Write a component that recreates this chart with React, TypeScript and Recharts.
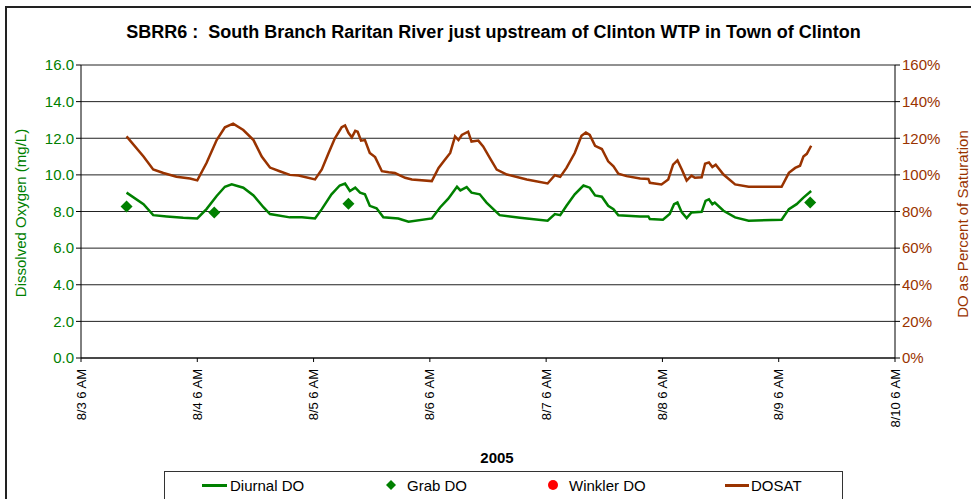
import React from "react"
import { CartesianGrid, ComposedChart, Line, Scatter, XAxis, YAxis } from "recharts"

// hours after 8/3 6 AM
const dayTicks = [0, 24, 48, 72, 96, 120, 144, 168]
const dayLabels = ["8/3 6 AM", "8/4 6 AM", "8/5 6 AM", "8/6 6 AM", "8/7 6 AM", "8/8 6 AM", "8/9 6 AM", "8/10 6 AM"]
const doTicks = [0, 2, 4, 6, 8, 10, 12, 14, 16]
const satTicks = [0, 20, 40, 60, 80, 100, 120, 140, 160]

const diurnalHours = [
  9.4, 12.9, 14.9, 17.7, 21.1, 24, 25.9, 28, 29.7, 31.1, 33.5, 35.6, 37.7, 39, 43.1, 45.6, 48.3, 49.7, 51.7, 53.4,
  54.5, 55.5, 56.6, 57.6, 58.6, 59.6, 61, 62.4, 65.5, 67.6, 72.4, 74.1, 75.8, 77.6, 78.3, 79.6, 80.6, 82.3, 83.7,
  85.1, 86.4, 90.6, 96.3, 97.8, 98.9, 100.2, 101.9, 103.7, 105, 106.1, 107.5, 108.8, 109.9, 110.9, 115.4, 117.1,
  117.4, 120.1, 121.5, 122.4, 123.1, 124, 125, 126, 128.1, 128.9, 129.6, 130.3, 130.8, 132.6, 135, 137.8, 144.6,
  146.1, 147.7, 149.1, 150.7,
]
const diurnalDO = [
  9.03, 8.4, 7.8, 7.73, 7.66, 7.62, 8.13, 8.85, 9.35, 9.48, 9.3, 8.88, 8.22, 7.86, 7.68, 7.68, 7.62, 8.13, 8.94, 9.42,
  9.53, 9.12, 9.3, 9.03, 8.94, 8.31, 8.18, 7.68, 7.62, 7.44, 7.62, 8.22, 8.7, 9.35, 9.15, 9.33, 9.03, 8.94, 8.49,
  8.13, 7.8, 7.66, 7.5, 7.86, 7.8, 8.31, 8.94, 9.42, 9.3, 8.88, 8.81, 8.31, 8.13, 7.8, 7.73, 7.73,
  7.59, 7.55, 7.86, 8.4, 8.49, 7.95, 7.64, 7.95, 7.98, 8.58, 8.67, 8.4, 8.49, 8.04, 7.68, 7.5, 7.55,
  8.13, 8.4, 8.76, 9.12,
]

const dosatHours = [
  9.4, 12.9, 14.9, 17, 19.7, 22.5, 24, 25.9, 28, 29.7, 31.4, 33.5, 35.6, 37.3, 39, 41, 43.1, 44.9, 48.3, 49.7, 51.1,
  52.4, 53.8, 54.5, 55.2, 55.9, 56.6, 57.1, 57.8, 58.6, 59.6, 60.7, 62.1, 63.5, 64.8, 66.9, 68.3, 72.4, 73.8, 75.1,
  76.2, 77.2, 77.9, 78.6, 79.9, 80.6, 82, 83, 84.4, 85.8, 87.9, 92, 96.3, 97.8, 98.9, 100.2, 101.9, 103.3, 104.2,
  105, 106.1, 107.5, 108.8, 109.9, 110.9, 112.6, 115.4, 117.1, 117.4, 119.8, 121.2, 122.2, 123.1, 124, 125, 126,
  126.7, 128.1, 128.8, 129.6, 130.3, 131, 132.6, 135, 137.8, 144.6, 146.1, 147.4, 148.4, 149.1, 149.8, 150.7,
]
const dosatPct = [
  121, 110, 103, 101, 99, 98, 97, 106.5, 119, 126, 128, 124.5, 119, 110, 104, 102, 100, 99.6, 97.5, 103, 112,
  120, 126, 127, 123, 120.5, 124, 123.5, 118.7, 119, 112, 109.7, 102, 101.4, 101, 98.4, 97.5, 96.6, 103.8, 108.3,
  112, 121, 119, 121.8, 123.6, 118.2, 118.7, 115.5, 109.2, 102.9, 100.2, 97.5, 95.3, 99.8, 98.9, 103.8, 111.9, 121.3, 123.1,
  121.8, 115.9, 114.1, 107.4, 104.7, 100.7, 99.3, 98, 97.8, 95.7, 94.8, 97.5, 105.6, 107.9, 102.9, 96.9, 99.6,
  98.4, 98.7, 106.1, 106.8, 104.3, 105.6, 100.2, 94.8, 93.5, 93.5, 101.1, 103.8, 105, 110, 111.5, 115.9,
]

const grabHours = [9.4, 27.5, 55.2, 150.5]
const grabDO = [8.27, 7.95, 8.43, 8.49]

const GREEN = "#008000"
const BROWN = "#993300"
const FONT = '"Liberation Sans", Arial, sans-serif'

const diurnalData = diurnalHours.map((h, i) => ({ h, v: diurnalDO[i] }))
const dosatData = dosatHours.map((h, i) => ({ h, v: dosatPct[i] }))
const grabData = grabHours.map((h, i) => ({ h, v: grabDO[i] }))

function DayTick({ x, y, payload }: any) {
  const idx = dayTicks.indexOf(payload.value)
  const ty = y + 5
  return (
    <text
      x={x}
      y={ty}
      dy="0.35em"
      textAnchor="end"
      transform={`rotate(-90 ${x} ${ty})`}
      fontSize={13}
      fontFamily={FONT}
      fill="#000"
    >
      {dayLabels[idx]}
    </text>
  )
}

function Diamond({ cx, cy }: any) {
  const r = 6
  return <polygon points={`${cx},${cy - r} ${cx + r},${cy} ${cx},${cy + r} ${cx - r},${cy}`} fill={GREEN} />
}

export default function App() {
  return (
    <div
      style={{
        position: "absolute",
        left: 0,
        top: 0,
        width: 971,
        height: 499,
        overflow: "hidden",
        background: "#fff",
        fontFamily: FONT,
      }}
    >
      <div
        style={{
          position: "absolute",
          left: 5,
          top: 6,
          width: 1100,
          height: 1000,
          border: "2px solid #222",
        }}
      />
      <div
        style={{
          position: "absolute",
          left: 0,
          width: 987,
          top: 22,
          textAlign: "center",
          fontSize: 18,
          fontWeight: "bold",
          color: "#000",
          whiteSpace: "pre",
        }}
      >
        SBRR6 :  South Branch Raritan River just upstream of Clinton WTP in Town of Clinton
      </div>

      <div style={{ position: "absolute", left: 0, top: 0 }}>
        <ComposedChart width={971} height={499} margin={{ top: 65, right: 16, bottom: 71, left: 21 }}>
          <CartesianGrid yAxisId="left" horizontal vertical={false} stroke="#222" strokeWidth={1} />
          <XAxis
            dataKey="h"
            type="number"
            domain={[0, 168]}
            ticks={dayTicks}
            height={70}
            tick={<DayTick />}
            tickSize={4}
            stroke="#000"
            allowDataOverflow
          />
          <YAxis
            yAxisId="left"
            orientation="left"
            width={60}
            domain={[0, 16]}
            ticks={doTicks}
            tickFormatter={(v: number) => v.toFixed(1)}
            tick={{ fill: GREEN, fontSize: 15, fontFamily: FONT }}
            tickSize={5}
            stroke="#000"
          />
          <YAxis
            yAxisId="right"
            orientation="right"
            width={60}
            domain={[0, 160]}
            ticks={satTicks}
            tickFormatter={(v: number) => `${v}%`}
            tick={{ fill: BROWN, fontSize: 15, fontFamily: FONT, textAnchor: "start" }}
            tickSize={5}
            stroke="#000"
          />
          <Line
            data={dosatData}
            dataKey="v"
            yAxisId="right"
            type="linear"
            stroke={BROWN}
            strokeWidth={2.5}
            dot={false}
            isAnimationActive={false}
          />
          <Line
            data={diurnalData}
            dataKey="v"
            yAxisId="left"
            type="linear"
            stroke={GREEN}
            strokeWidth={2.5}
            dot={false}
            isAnimationActive={false}
          />
          <Scatter data={grabData} dataKey="v" yAxisId="left" shape={<Diamond />} isAnimationActive={false} />
        </ComposedChart>
      </div>

      <div
        style={{
          position: "absolute",
          left: 20,
          top: 213,
          transform: "translate(-50%, -50%) rotate(-90deg)",
          whiteSpace: "nowrap",
          color: GREEN,
          fontSize: 15,
        }}
      >
        Dissolved Oxygen (mg/L)
      </div>
      <div
        style={{
          position: "absolute",
          left: 962,
          top: 224,
          transform: "translate(-50%, -50%) rotate(-90deg)",
          whiteSpace: "nowrap",
          color: BROWN,
          fontSize: 15,
        }}
      >
        DO as Percent of Saturation
      </div>
      <div
        style={{
          position: "absolute",
          left: 497,
          top: 457,
          transform: "translate(-50%, -50%)",
          fontSize: 15,
          fontWeight: "bold",
        }}
      >
        2005
      </div>

      <div
        style={{
          position: "absolute",
          left: 164,
          top: 471,
          width: 677,
          height: 40,
          border: "1px solid #333",
        }}
      />
      <div style={{ position: "absolute", left: 202, top: 484, width: 25, height: 3, background: GREEN }} />
      <div style={{ position: "absolute", left: 230, top: 477, fontSize: 15 }}>Diurnal DO</div>
      <svg style={{ position: "absolute", left: 385, top: 479 }} width={12} height={12}>
        <polygon points="6,1 11,6 6,11 1,6" fill={GREEN} />
      </svg>
      <div style={{ position: "absolute", left: 407, top: 477, fontSize: 15 }}>Grab DO</div>
      <svg style={{ position: "absolute", left: 547, top: 479 }} width={12} height={12}>
        <circle cx={6} cy={6} r={5} fill="#ff0000" />
      </svg>
      <div style={{ position: "absolute", left: 569, top: 477, fontSize: 15 }}>Winkler DO</div>
      <div style={{ position: "absolute", left: 725, top: 484, width: 24, height: 3, background: BROWN }} />
      <div style={{ position: "absolute", left: 751, top: 477, fontSize: 15 }}>DOSAT</div>
    </div>
  )
}
